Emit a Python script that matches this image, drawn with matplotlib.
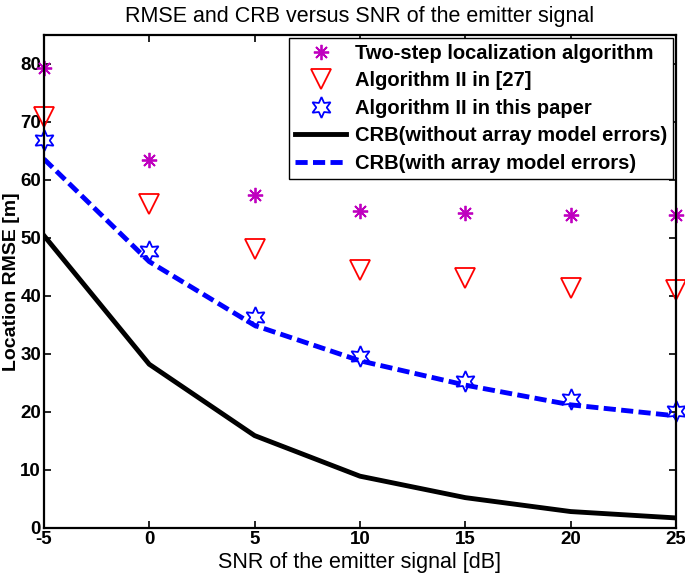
import numpy as np
import matplotlib
matplotlib.use('Agg')
import matplotlib.pyplot as plt

plt.rcParams['font.family'] = ['Liberation Sans', 'DejaVu Sans']

snr = [-5, 0, 5, 10, 15, 20, 25]
two_step = [79.2, 63.4, 57.4, 54.7, 54.3, 54.0, 53.9]
alg_ref27 = [70.8, 55.8, 48.0, 44.5, 43.0, 41.4, 41.0]
alg_paper = [66.9, 47.8, 36.4, 29.6, 25.3, 22.2, 20.2]
crb_without = [50.4, 28.2, 15.9, 8.9, 5.2, 2.8, 1.7]
crb_with = [63.6, 45.9, 34.9, 28.8, 24.6, 21.2, 19.3]

fig = plt.figure(figsize=(6.85, 5.8), dpi=100)
ax = fig.add_axes([0.064, 0.09, 0.923, 0.85])

ax.plot(snr, two_step, linestyle='none', marker=(8, 2, 0), color='#bf00bf',
        markersize=11, markeredgewidth=1.3, clip_on=False,
        label='Two-step localization algorithm')
ax.plot(snr, alg_ref27, linestyle='none', marker='v', color='red', markerfacecolor='none',
        markersize=14, markeredgewidth=1.3, clip_on=False, label='Algorithm II in [27]')
ax.plot(snr, alg_paper, linestyle='none', marker=(6, 1, 0), color='blue', markerfacecolor='none',
        markersize=15, markeredgewidth=1.3, clip_on=False, label='Algorithm II in this paper')
ax.plot(snr, crb_without, '-', color='black', linewidth=3.5,
        label='CRB(without array model errors)')
ax.plot(snr, crb_with, '--', color='blue', linewidth=3.5, dashes=(2.5, 1.1),
        label='CRB(with array model errors)')

ax.set_xlim(-5, 25)
ax.set_ylim(0, 85)
ax.set_xticks(snr)
ax.set_xticklabels([str(s) for s in snr])
ax.set_yticks(range(0, 81, 10))
ax.tick_params(direction='in', top=True, right=True, length=5, width=1.2,
               labelsize=13.5, pad=2)
for lab in ax.get_xticklabels() + ax.get_yticklabels():
    lab.set_fontweight('bold')
for s in ax.spines.values():
    s.set_linewidth(1.6)

ax.set_xlabel('SNR of the emitter signal [dB]', fontsize=15.5, labelpad=3)
ax.set_ylabel('Location RMSE [m]', fontsize=14, fontweight='bold', labelpad=0)
ax.set_title('RMSE and CRB versus SNR of the emitter signal', fontsize=15.5, pad=9)

leg = ax.legend(loc='upper right', fancybox=False, edgecolor='black', framealpha=1,
                prop={'size': 14.5, 'weight': 'bold'}, handlelength=2.5, borderaxespad=0.15,
                labelspacing=0.42, handletextpad=0.45, borderpad=0.3)
leg.get_frame().set_linewidth(1.0)

fig.savefig('out.png', dpi=100)
